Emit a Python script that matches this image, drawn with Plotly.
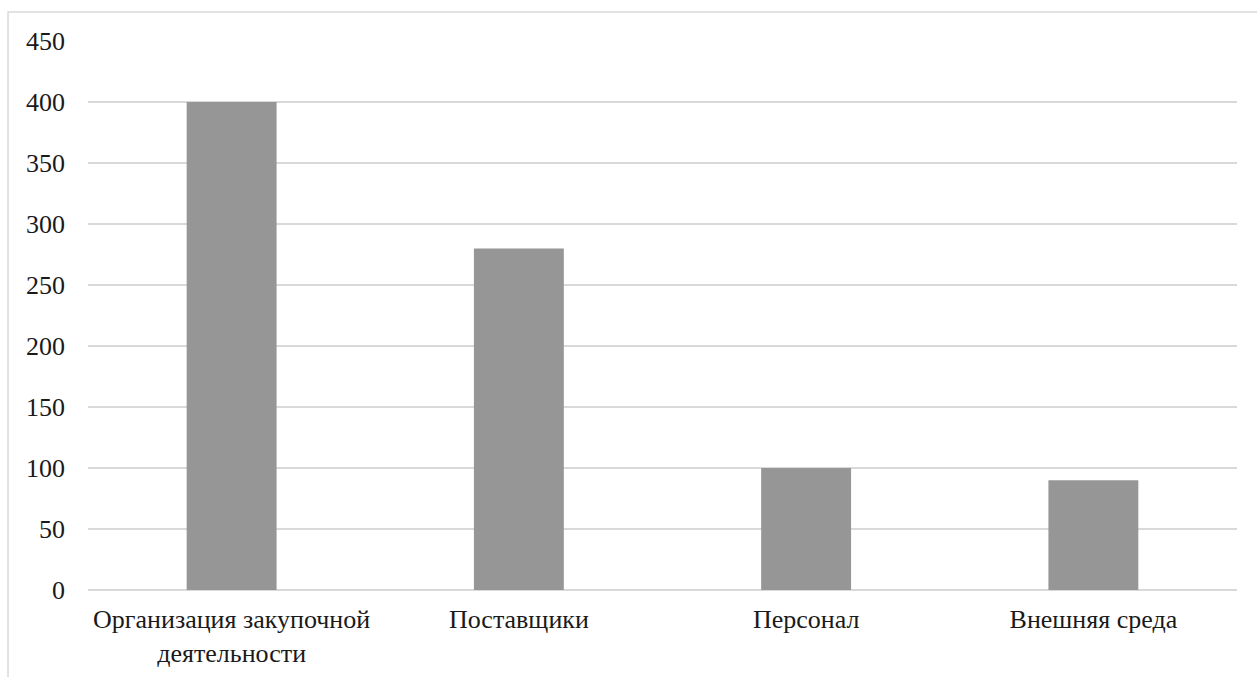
import plotly.graph_objects as go

categories = ["Организация закупочной<br>деятельности", "Поставщики", "Персонал", "Внешняя среда"]
values = [400, 280, 100, 90]
y_ticks = [0, 50, 100, 150, 200, 250, 300, 350, 400, 450]

fig = go.Figure(
    go.Bar(
        x=categories,
        y=values,
        marker=dict(color="#969696", line=dict(width=0)),
        width=0.313,
    )
)

fig.update_layout(
    width=1257,
    height=677,
    margin=dict(l=88, r=20, t=41, b=87),
    paper_bgcolor="white",
    plot_bgcolor="white",
    showlegend=False,
    font=dict(family="Liberation Serif", size=26, color="#1a1a1a"),
    xaxis=dict(
        showgrid=False,
        showline=False,
        ticks="",
        automargin=False,
        ticklabelstandoff=11,
        tickfont=dict(family="Liberation Serif", size=26),
    ),
    yaxis=dict(
        range=[0, 450],
        tickvals=y_ticks,
        showgrid=True,
        gridcolor="#d9d9d9",
        gridwidth=1.5,
        zeroline=True,
        zerolinecolor="#d9d9d9",
        zerolinewidth=1.5,
        showline=False,
        ticks="",
        automargin=False,
        ticklabelstandoff=22,
        tickfont=dict(family="Liberation Serif", size=26),
    ),
    shapes=[
        dict(
            type="rect",
            xref="paper",
            yref="paper",
            x0=-0.0696,
            x1=1.2,
            y0=-0.5,
            y1=1.0528,
            line=dict(color="#d9d9d9", width=1.5),
            fillcolor="rgba(0,0,0,0)",
            layer="below",
        )
    ],
)

fig.write_html("out.html")
